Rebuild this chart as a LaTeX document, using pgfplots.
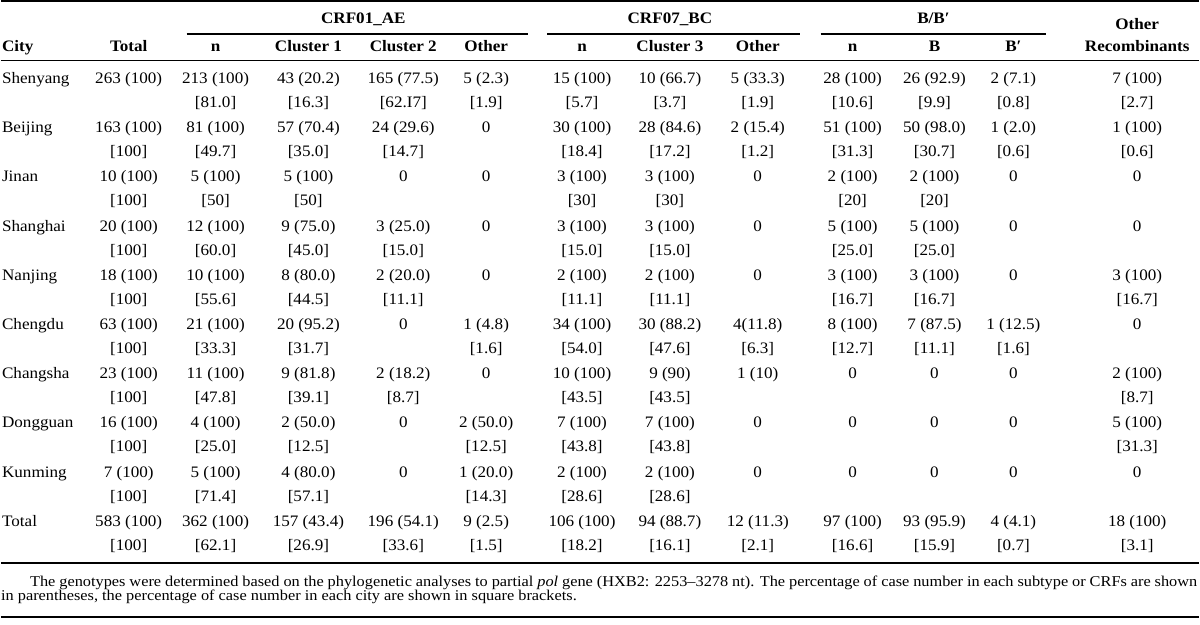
\documentclass[border=0pt]{standalone}
\usepackage{pgfplots}
\pgfplotsset{compat=1.18}
\usepackage{fontspec}
\setmainfont[FakeStretch=1.07]{Liberation Serif}
\newfontfamily\footfam[FakeStretch=1.09]{Liberation Serif}
\newcommand\bodyfont{\fontsize{16}{19}\selectfont}
\newcommand\footfont{\footfam\fontsize{15}{18}\selectfont}
% column centres
\def\cT{128}\def\cN{215}\def\cA{308}\def\cB{403}\def\cO{486}
\def\cNN{582}\def\cC{670}\def\cOO{758}\def\cNNN{853}\def\cBB{935}\def\cBp{1014}\def\cR{1138}
\tikzset{cell/.style={anchor=base,inner sep=0pt,font=\bodyfont}}
\newcommand\rowL[7]{%
  \node[cell,anchor=base west] at (axis cs:1,#1) {#2};
  \node[cell] at (axis cs:\cT,#1) {#3};
  \node[cell] at (axis cs:\cN,#1) {#4};
  \node[cell] at (axis cs:\cA,#1) {#5};
  \node[cell] at (axis cs:\cB,#1) {#6};
  \node[cell] at (axis cs:\cO,#1) {#7};}
\newcommand\rowR[8]{%
  \node[cell] at (axis cs:\cNN,#1) {#2};
  \node[cell] at (axis cs:\cC,#1) {#3};
  \node[cell] at (axis cs:\cOO,#1) {#4};
  \node[cell] at (axis cs:\cNNN,#1) {#5};
  \node[cell] at (axis cs:\cBB,#1) {#6};
  \node[cell] at (axis cs:\cBp,#1) {#7};
  \node[cell] at (axis cs:\cR,#1) {#8};}
\begin{document}
\begin{tikzpicture}
\begin{axis}[
  width=1200pt, height=625pt, scale only axis,
  xmin=0, xmax=1200, ymin=0, ymax=625, y dir=reverse,
  hide axis, clip=false]
\path (axis cs:0,0) rectangle (axis cs:1200,625);
% rules
\addplot[black, line width=1.6pt] coordinates {(0,0.9) (1200,0.9)};
\addplot[black, line width=1.1pt] coordinates {(186,34) (528,34)};
\addplot[black, line width=1.1pt] coordinates {(547,34) (800,34)};
\addplot[black, line width=1.1pt] coordinates {(821,34) (1047,34)};
\addplot[black, line width=1.1pt] coordinates {(0,61) (1200,61)};
\addplot[black, line width=1.6pt] coordinates {(0,564) (1200,564)};
\addplot[black, line width=1.8pt] coordinates {(0,618) (1200,618)};
% group headers
\node[cell,font=\bodyfont\bfseries] at (axis cs:363,24) {CRF01\_AE};
\node[cell,font=\bodyfont\bfseries] at (axis cs:670,24) {CRF07\_BC};
\node[cell,font=\bodyfont\bfseries] at (axis cs:934,24) {B/B′};
\node[cell,font=\bodyfont\bfseries] at (axis cs:\cR,30) {Other};
% header row
\node[cell,font=\bodyfont\bfseries,anchor=base west] at (axis cs:1,52) {City};
\node[cell,font=\bodyfont\bfseries] at (axis cs:\cT,52) {Total};
\node[cell,font=\bodyfont\bfseries] at (axis cs:\cN,52) {n};
\node[cell,font=\bodyfont\bfseries] at (axis cs:\cA,52) {Cluster 1};
\node[cell,font=\bodyfont\bfseries] at (axis cs:\cB,52) {Cluster 2};
\node[cell,font=\bodyfont\bfseries] at (axis cs:\cO,52) {Other};
\node[cell,font=\bodyfont\bfseries] at (axis cs:\cNN,52) {n};
\node[cell,font=\bodyfont\bfseries] at (axis cs:\cC,52) {Cluster 3};
\node[cell,font=\bodyfont\bfseries] at (axis cs:\cOO,52) {Other};
\node[cell,font=\bodyfont\bfseries] at (axis cs:\cNNN,52) {n};
\node[cell,font=\bodyfont\bfseries] at (axis cs:\cBB,52) {B};
\node[cell,font=\bodyfont\bfseries] at (axis cs:\cBp,52) {B′};
\node[cell,font=\bodyfont\bfseries] at (axis cs:\cR,52) {Recombinants};
% data
\rowL{83.5}{Shenyang}{263 (100)}{213 (100)}{43 (20.2)}{165 (77.5)}{5 (2.3)}
\rowR{83.5}{15 (100)}{10 (66.7)}{5 (33.3)}{28 (100)}{26 (92.9)}{2 (7.1)}{7 (100)}
\rowL{107.5}{}{}{[81.0]}{[16.3]}{[62.I7]}{[1.9]}
\rowR{107.5}{[5.7]}{[3.7]}{[1.9]}{[10.6]}{[9.9]}{[0.8]}{[2.7]}
\rowL{132.8}{Beijing}{163 (100)}{81 (100)}{57 (70.4)}{24 (29.6)}{0}
\rowR{132.8}{30 (100)}{28 (84.6)}{2 (15.4)}{51 (100)}{50 (98.0)}{1 (2.0)}{1 (100)}
\rowL{156.8}{}{[100]}{[49.7]}{[35.0]}{[14.7]}{}
\rowR{156.8}{[18.4]}{[17.2]}{[1.2]}{[31.3]}{[30.7]}{[0.6]}{[0.6]}
\rowL{182.1}{Jinan}{10 (100)}{5 (100)}{5 (100)}{0}{0}
\rowR{182.1}{3 (100)}{3 (100)}{0}{2 (100)}{2 (100)}{0}{0}
\rowL{206.1}{}{[100]}{[50]}{[50]}{}{}
\rowR{206.1}{[30]}{[30]}{}{[20]}{[20]}{}{}
\rowL{231.4}{Shanghai}{20 (100)}{12 (100)}{9 (75.0)}{3 (25.0)}{0}
\rowR{231.4}{3 (100)}{3 (100)}{0}{5 (100)}{5 (100)}{0}{0}
\rowL{255.4}{}{[100]}{[60.0]}{[45.0]}{[15.0]}{}
\rowR{255.4}{[15.0]}{[15.0]}{}{[25.0]}{[25.0]}{}{}
\rowL{280.7}{Nanjing}{18 (100)}{10 (100)}{8 (80.0)}{2 (20.0)}{0}
\rowR{280.7}{2 (100)}{2 (100)}{0}{3 (100)}{3 (100)}{0}{3 (100)}
\rowL{304.7}{}{[100]}{[55.6]}{[44.5]}{[11.1]}{}
\rowR{304.7}{[11.1]}{[11.1]}{}{[16.7]}{[16.7]}{}{[16.7]}
\rowL{330.0}{Chengdu}{63 (100)}{21 (100)}{20 (95.2)}{0}{1 (4.8)}
\rowR{330.0}{34 (100)}{30 (88.2)}{4(11.8)}{8 (100)}{7 (87.5)}{1 (12.5)}{0}
\rowL{354.0}{}{[100]}{[33.3]}{[31.7]}{}{[1.6]}
\rowR{354.0}{[54.0]}{[47.6]}{[6.3]}{[12.7]}{[11.1]}{[1.6]}{}
\rowL{379.3}{Changsha}{23 (100)}{11 (100)}{9 (81.8)}{2 (18.2)}{0}
\rowR{379.3}{10 (100)}{9 (90)}{1 (10)}{0}{0}{0}{2 (100)}
\rowL{403.3}{}{[100]}{[47.8]}{[39.1]}{[8.7]}{}
\rowR{403.3}{[43.5]}{[43.5]}{}{}{}{}{[8.7]}
\rowL{428.6}{Dongguan}{16 (100)}{4 (100)}{2 (50.0)}{0}{2 (50.0)}
\rowR{428.6}{7 (100)}{7 (100)}{0}{0}{0}{0}{5 (100)}
\rowL{452.6}{}{[100]}{[25.0]}{[12.5]}{}{[12.5]}
\rowR{452.6}{[43.8]}{[43.8]}{}{}{}{}{[31.3]}
\rowL{477.9}{Kunming}{7 (100)}{5 (100)}{4 (80.0)}{0}{1 (20.0)}
\rowR{477.9}{2 (100)}{2 (100)}{0}{0}{0}{0}{0}
\rowL{501.9}{}{[100]}{[71.4]}{[57.1]}{}{[14.3]}
\rowR{501.9}{[28.6]}{[28.6]}{}{}{}{}{}
\rowL{527.2}{Total}{583 (100)}{362 (100)}{157 (43.4)}{196 (54.1)}{9 (2.5)}
\rowR{527.2}{106 (100)}{94 (88.7)}{12 (11.3)}{97 (100)}{93 (95.9)}{4 (4.1)}{18 (100)}
\rowL{551.2}{}{[100]}{[62.1]}{[26.9]}{[33.6]}{[1.5]}
\rowR{551.2}{[18.2]}{[16.1]}{[2.1]}{[16.6]}{[15.9]}{[0.7]}{[3.1]}
% footnote
\node[anchor=base west,inner sep=0pt,font=\footfont] at (axis cs:29,587) {\makebox[1169pt][s]{The genotypes were determined based on the phylogenetic analyses to partial \textit{pol} gene (HXB2: 2253–3278 nt). The percentage of case number in each subtype or CRFs are shown}};
\node[anchor=base west,inner sep=0pt,font=\footfont] at (axis cs:0,601) {in parentheses, the percentage of case number in each city are shown in square brackets.};
\end{axis}
\end{tikzpicture}
\end{document}
